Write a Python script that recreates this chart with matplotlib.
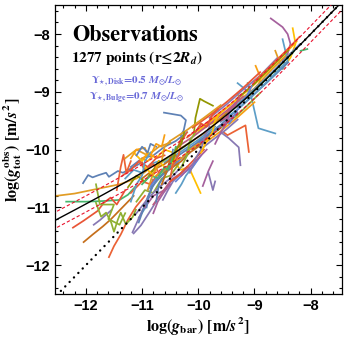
import numpy as np
import matplotlib
matplotlib.use("Agg")
import matplotlib.pyplot as plt
from matplotlib.ticker import MultipleLocator

plt.rcParams['mathtext.fontset'] = 'custom'
plt.rcParams['mathtext.rm'] = 'STIXGeneral:bold'
plt.rcParams['mathtext.it'] = 'STIXGeneral:italic:bold'
plt.rcParams['mathtext.bf'] = 'STIXGeneral:bold'
plt.rcParams['mathtext.fallback'] = 'stix'

# Mathematica default palette
palette = ['#5E81B5', '#E19C24', '#8FB032', '#EB6235', '#8778B3', '#C56E1A',
           '#5D9EC7', '#FFBF00', '#A5609D', '#929600', '#E95536', '#6685D9',
           '#F89F13', '#BC5B80', '#47B66D']

# per-galaxy curves, log(g_bar) and log(g_obs)
curve_x = [
    # outlying / easy to pick out
    [-12.53, -12.2, -11.8, -11.4, -11.1, -10.9],
    [-12.35, -12.0, -11.7, -11.4, -11.25, -11.1],
    [-12.05, -11.96, -11.88, -11.77, -11.64, -11.59, -11.43, -11.34, -11.15, -11.0],
    [-11.59, -11.5, -11.38, -11.25, -11.11, -10.95],
    [-12.04, -11.88, -11.7, -11.56, -11.35, -11.15],
    [-12.23, -12.04, -11.79, -11.68, -11.56, -11.45, -11.3],
    [-11.45, -11.38, -11.33, -11.28, -11.2],
    [-11.86, -11.75, -11.68, -11.55],
    [-11.15, -11.02, -10.88, -10.75],
    [-11.82, -11.73, -11.64, -11.55, -11.5, -11.43, -11.38, -11.29, -11.17, -11.11],
    [-11.82, -11.75, -11.5, -11.6, -11.4, -11.3],
    [-11.06, -10.93, -10.85, -10.81],
    [-11.17, -10.99, -10.9],
    [-11.06, -10.9, -10.81, -10.7],
    [-10.61, -10.31, -10.22, -10.26, -10.31],
    [-10.08, -10.05, -9.97, -9.9, -9.82, -9.74],
    [-9.3, -9.07, -8.93, -8.63],
    [-9.55, -9.48, -9.16, -9.1],
    [-9.6, -9.46, -9.28, -9.25],
    [-10.45, -10.31, -10.17, -9.96],
    [-9.92, -9.82, -9.74],
    [-9.82, -9.74, -9.7],
    [-8.71, -8.5, -8.41, -8.36, -8.41, -8.5],
    [-8.32, -8.27, -8.36, -8.5],
    [-8.5, -8.41, -8.5],
    [-8.63, -8.54, -8.65],
    [-8.98, -8.89, -8.94, -9.05],
    [-8.18, -8.06],
    [-9.3, -9.25, -9.37],
    [-9.12, -9.08],
    # upper part of the band
    [-10.2, -9.8, -9.4, -9.0, -8.6, -8.3],
    [-10.0, -9.6, -9.2, -8.8, -8.4],
    [-9.9, -9.6, -9.3, -9.0, -8.7, -8.45],
    [-10.1, -9.7, -9.3, -8.9],
    [-9.8, -9.5, -9.2, -8.9, -8.6],
    [-10.3, -9.9, -9.5, -9.1, -8.7, -8.35],
    [-9.6, -9.3, -9.0, -8.7, -8.45],
    [-10.0, -9.7, -9.4, -9.1, -8.8, -8.5, -8.25],
    [-10.2, -9.9, -9.6, -9.3],
    [-10.1, -9.8, -9.5, -9.2, -8.9],
    [-9.4, -9.1, -8.8, -8.5, -8.2],
    [-9.9, -9.6, -9.3, -9.0],
    [-10.4, -10.1, -9.8, -9.5, -9.2],
    [-9.5, -9.2, -8.9, -8.6, -8.3],
    [-9.3, -9.0, -8.7, -8.4],
    [-10.5, -10.2, -9.9, -9.6],
    [-9.0, -8.7, -8.45, -8.2],
    [-9.9, -9.7, -9.5, -9.3],
    [-10.5, -10.2, -9.9, -9.6],
    [-10.6, -10.3, -10.0, -9.7],
    # crowded middle of the band
    [-11.2, -11.0, -10.8, -10.6, -10.4, -10.2],
    [-11.3, -11.1, -10.9, -10.7, -10.5],
    [-11.1, -10.95, -10.8, -10.65, -10.5, -10.35],
    [-11.2, -11.0, -10.85, -10.7, -10.5, -10.3],
    [-11.1, -10.9, -10.7, -10.5, -10.3],
    [-11.0, -10.8, -10.6, -10.4],
    [-11.3, -11.15, -11.0, -10.85, -10.7],
    [-11.15, -11.0, -10.9, -10.75, -10.6, -10.45],
    [-10.95, -10.8, -10.6, -10.45, -10.3],
    [-11.25, -11.1, -10.95, -10.8, -10.7],
    [-11.35, -11.2, -11.05, -10.9, -10.75, -10.6],
    [-10.9, -10.75, -10.6, -10.45, -10.3, -10.15],
    [-11.2, -11.1, -10.95, -10.9, -11.0, -10.9, -10.8],
    [-10.8, -10.65, -10.5, -10.35, -10.2],
    [-11.0, -10.85, -10.7, -10.55, -10.4],
    [-10.92, -10.88, -10.82, -10.7, -10.55],
    [-10.63, -10.54, -10.45, -10.35, -10.2],
    [-10.8, -10.72, -10.62, -10.5],
    [-10.4, -10.3, -10.22, -10.1, -10.0],
    [-10.75, -10.6, -10.45, -10.3, -10.15, -10.0],
    [-11.05, -10.95, -10.8, -10.7, -10.55],
    [-10.6, -10.45, -10.3, -10.15, -10.0, -9.85],
    [-10.7, -10.55, -10.4, -10.25, -10.1],
    [-10.95, -10.8, -10.7, -10.55, -10.4],
    [-10.5, -10.35, -10.2, -10.05, -9.9],
    [-10.4, -10.25, -10.1, -9.95],
    [-10.3, -10.15, -10.0, -9.85],
    [-11.1, -11.0, -10.9, -10.85, -10.75],
    # steep inner segments crossing the band
    [-10.9, -10.8, -10.65, -10.6, -10.5],
    [-10.75, -10.7, -10.6, -10.5, -10.45],
    [-10.5, -10.45, -10.35, -10.3, -10.2],
    [-10.3, -10.2, -10.15, -10.05, -9.95],
    [-10.15, -10.05, -9.95, -9.9, -9.8],
    [-9.95, -9.85, -9.75, -9.7, -9.6],
    [-11.2, -11.1, -11.0, -10.95, -10.85],
    [-10.65, -10.55, -10.5, -10.4, -10.3],
    [-9.7, -9.6, -9.5, -9.45, -9.35],
    [-10.05, -9.95, -9.85, -9.75, -9.65],
    [-9.45, -9.35, -9.25, -9.15, -9.05],
    [-10.85, -10.75, -10.65, -10.6],
    [-10.7, -10.6, -10.55, -10.45, -10.4],
    [-10.45, -10.4, -10.3, -10.25],
    [-9.6, -9.5, -9.45, -9.35, -9.25],
]
curve_y = [
    [-10.8, -10.76, -10.68, -10.6, -10.5, -10.35],
    [-10.9, -10.9, -10.89, -10.87, -10.78, -10.62],
    [-10.58, -10.44, -10.48, -10.44, -10.4, -10.47, -10.37, -10.4, -10.3, -10.22],
    [-11.86, -11.67, -11.47, -11.21, -10.99, -10.8],
    [-11.6, -11.47, -11.33, -11.21, -11.0, -10.8],
    [-11.35, -11.23, -11.06, -10.92, -10.83, -10.95, -10.7],
    [-10.7, -10.3, -10.09, -10.4, -10.2],
    [-11.3, -11.22, -11.16, -11.05],
    [-11.45, -11.31, -11.1, -10.9],
    [-10.92, -11.16, -11.09, -11.26, -11.42, -11.21, -11.09, -11.29, -11.17, -11.04],
    [-10.6, -10.95, -10.95, -11.2, -11.3, -11.1],
    [-11.18, -10.99, -10.7, -10.52],
    [-11.43, -11.04, -10.9],
    [-11.26, -10.82, -10.64, -10.45],
    [-9.36, -9.41, -9.49, -9.67, -9.75],
    [-9.75, -9.45, -9.12, -9.16, -9.2, -9.24],
    [-8.85, -9.03, -9.63, -9.72],
    [-9.7, -9.75, -9.58, -10.04],
    [-9.7, -9.8, -9.96, -10.27],
    [-10.2, -10.35, -10.3, -10.75],
    [-10.63, -10.37, -10.2],
    [-10.4, -10.7, -10.55],
    [-7.73, -7.88, -8.0, -8.17, -8.34, -8.45],
    [-7.9, -8.17, -8.41, -8.6],
    [-8.09, -8.46, -8.6],
    [-8.29, -8.52, -8.65],
    [-8.55, -8.76, -8.93, -9.0],
    [-8.29, -8.26],
    [-9.03, -9.18, -9.44],
    [-8.85, -8.97],
    # upper part of the band
    [-9.79, -9.50, -9.20, -8.86, -8.47, -8.17],
    [-9.86, -9.57, -9.22, -8.86, -8.49],
    [-9.63, -9.45, -9.17, -8.94, -8.62, -8.38],
    [-10.0, -9.7, -9.4, -9.02],
    [-9.45, -9.22, -8.96, -8.72, -8.42],
    [-9.97, -9.72, -9.38, -9.07, -8.68, -8.33],
    [-9.52, -9.3, -9.03, -8.75, -8.5],
    [-9.68, -9.45, -9.2, -8.96, -8.68, -8.38, -8.13],
    [-10.03, -9.82, -9.6, -9.36],
    [-9.62, -9.41, -9.18, -8.93, -8.66],
    [-9.30, -9.04, -8.77, -8.48, -8.18],
    [-9.9, -9.68, -9.44, -9.18],
    [-9.97, -9.78, -9.56, -9.33, -9.08],
    [-9.4, -9.15, -8.88, -8.6, -8.3],
    [-9.11, -8.86, -8.57, -8.28],
    [-10.2, -10.0, -9.8, -9.58],
    [-8.82, -8.54, -8.3, -8.05],
    [-9.95, -9.8, -9.65, -9.48],
    [-9.85, -9.66, -9.45, -9.23],
    [-10.22, -10.03, -9.83, -9.6],
    # crowded middle of the band
    [-10.3, -10.15, -10.1, -9.95, -9.85, -9.7],
    [-10.15, -10.0, -10.1, -9.95, -9.88],
    [-10.9, -10.7, -10.75, -10.5, -10.45, -10.25],
    [-10.75, -10.55, -10.6, -10.4, -10.3, -10.15],
    [-11.1, -10.85, -10.65, -10.5, -10.3],
    [-10.5, -10.35, -10.25, -10.1],
    [-10.5, -10.35, -10.4, -10.25, -10.2],
    [-10.05, -10.2, -10.05, -10.15, -10.0, -10.05],
    [-11.0, -10.8, -10.7, -10.5, -10.4],
    [-10.65, -10.45, -10.55, -10.35, -10.2],
    [-10.45, -10.35, -10.2, -10.3, -10.15, -10.1],
    [-10.7, -10.5, -10.4, -10.3, -10.15, -10.05],
    [-10.15, -10.0, -9.97, -10.1, -10.15, -10.2, -10.1],
    [-10.95, -10.75, -10.55, -10.45, -10.3],
    [-10.6, -10.45, -10.5, -10.3, -10.2],
    [-11.0, -10.8, -10.64, -10.5, -10.35],
    [-10.87, -10.7, -10.55, -10.45, -10.3],
    [-11.1, -10.9, -10.75, -10.6],
    [-10.75, -10.6, -10.45, -10.3, -10.15],
    [-10.45, -10.35, -10.2, -10.15, -10.0, -9.9],
    [-10.2, -10.35, -10.25, -10.4, -10.3],
    [-10.4, -10.3, -10.2, -10.05, -9.95, -9.8],
    [-10.25, -10.15, -10.05, -9.95, -9.85],
    [-10.3, -10.45, -10.2, -10.35, -10.15],
    [-10.55, -10.45, -10.3, -10.15, -10.0],
    [-10.55, -10.4, -10.3, -10.1],
    [-10.45, -10.3, -10.15, -10.0],
    [-10.1, -9.95, -10.05, -9.9, -9.95],
    # steep inner segments crossing the band
    [-10.7, -10.4, -10.2, -9.95, -9.85],
    [-10.9, -10.6, -10.45, -10.3, -10.0],
    [-10.5, -10.25, -10.1, -9.85, -9.7],
    [-10.3, -10.1, -9.85, -9.7, -9.55],
    [-10.4, -10.15, -10.0, -9.8, -9.6],
    [-10.05, -9.85, -9.7, -9.5, -9.35],
    [-10.9, -10.6, -10.45, -10.2, -10.05],
    [-10.6, -10.35, -10.15, -10.05, -9.8],
    [-9.9, -9.7, -9.55, -9.35, -9.2],
    [-9.7, -9.55, -9.6, -9.4, -9.3],
    [-9.55, -9.4, -9.2, -9.1, -8.9],
    [-10.1, -9.9, -9.95, -9.75],
    [-10.45, -10.3, -10.35, -10.15, -9.95],
    [-10.2, -10.0, -9.9, -9.7],
    [-9.5, -9.45, -9.3, -9.25, -9.05],
]
curve_color = [1, 14, 0, 3, 5, 10, 3, 4, 4, 2, 2, 6, 4, 0, 0, 9, 6, 3, 4, 7,
               8, 4, 8, 7, 6, 1, 12, 14, 1, 14,
               3, 0, 1, 2, 4, 5, 6, 7, 8, 10, 11, 12, 13, 14, 9, 0, 3, 4, 1, 6,
               0, 1, 2, 3, 4, 5, 6, 7, 8, 9, 10, 11, 12, 13, 14, 0, 4, 8, 6, 1,
               3, 5, 2, 7, 10, 11, 8, 0,
               1, 0, 3, 2, 4, 7, 6, 5, 8, 10, 11, 12, 14, 9, 13]

g_dagger = 1.2e-10
scatter = 0.14

fig = plt.figure(figsize=(3.5, 3.42), dpi=100)
ax = fig.add_axes([0.157, 0.140, 0.819, 0.845])

for xs, ys, ci in zip(curve_x, curve_y, curve_color):
    ax.plot(xs, ys, color=palette[ci], lw=1.25, solid_joinstyle='round')

# reference relations
xx = np.linspace(-12.6, -7.4, 300)
gb = 10 ** xx
rar = np.log10(gb / (1 - np.exp(-np.sqrt(gb / g_dagger))))
ax.plot(xx, xx, color='black', lw=1.7, linestyle=(0, (0.05, 2.6)),
        dash_capstyle='round', zorder=5)
ax.plot(xx, rar, color='black', lw=1.0, zorder=6)
ax.plot(xx, rar + scatter, color='#E8112D', lw=0.8, linestyle=(0, (3, 2)), zorder=6)
ax.plot(xx, rar - scatter, color='#E8112D', lw=0.8, linestyle=(0, (3, 2)), zorder=6)

ax.set_xlim(-12.55, -7.45)
ax.set_ylim(-12.5, -7.5)
ax.xaxis.set_major_locator(MultipleLocator(1))
ax.yaxis.set_major_locator(MultipleLocator(1))
ax.xaxis.set_minor_locator(MultipleLocator(0.2))
ax.yaxis.set_minor_locator(MultipleLocator(0.2))
ax.tick_params(which='both', direction='in', top=True, right=True, width=0.8)
ax.tick_params(which='major', length=4.5)
ax.tick_params(which='minor', length=2.2)
for lab in ax.get_xticklabels() + ax.get_yticklabels():
    lab.set_fontfamily('Liberation Sans')
    lab.set_fontweight('bold')
    lab.set_fontsize(10.5)
for sp in ax.spines.values():
    sp.set_linewidth(0.9)

ax.set_xlabel(r'log($g_{\mathrm{bar}}$) [m/$s^2$]', fontsize=11.5,
              family='STIXGeneral', weight='bold', labelpad=2)
ax.set_ylabel(r'log($g_{\mathrm{tot}}^{\mathrm{obs}}$) [m/$s^2$]', fontsize=11.5,
              family='STIXGeneral', weight='bold', labelpad=1)

ax.text(0.279, 0.896, 'Observations', transform=ax.transAxes, ha='center', va='center',
        fontsize=16, family='STIXGeneral', weight='bold')
ax.text(0.286, 0.817, r'1277 points (r≤2$R_d$)', transform=ax.transAxes, ha='center',
        va='center', fontsize=11, family='STIXGeneral', weight='bold')
ax.text(0.286, 0.734, r'$\Upsilon_{\star,\mathrm{Disk}}$=0.5 $M_{\odot}/L_{\odot}$',
        transform=ax.transAxes, ha='center', va='center', fontsize=8,
        family='STIXGeneral', weight='bold', color='#6A6AD8')
ax.text(0.286, 0.678, r'$\Upsilon_{\star,\mathrm{Bulge}}$=0.7 $M_{\odot}/L_{\odot}$',
        transform=ax.transAxes, ha='center', va='center', fontsize=8,
        family='STIXGeneral', weight='bold', color='#6A6AD8')

fig.savefig('out.png', dpi=100)
